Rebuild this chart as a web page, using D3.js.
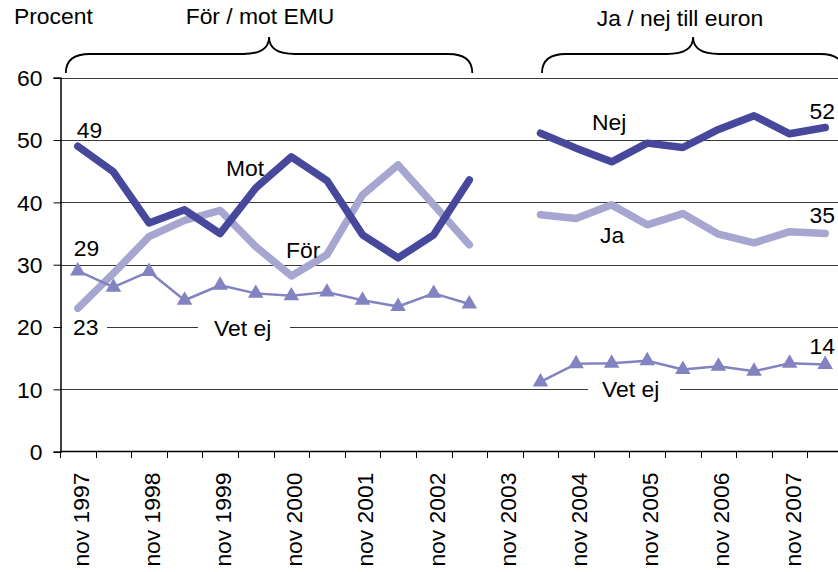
<!DOCTYPE html>
<html>
<head>
<meta charset="utf-8">
<script src="https://cdn.jsdelivr.net/npm/d3@7"></script>
<style>
  html, body { margin: 0; padding: 0; background: #fff; }
  svg { display: block; }
  text { font-family: Arial, "Liberation Sans", sans-serif; font-size: 22px; fill: #000; }
</style>
</head>
<body>
<svg id="chart" width="838" height="572"></svg>
<script>
// Half-yearly survey rounds on the category axis
const periods = ["nov 1997","maj 1998","nov 1998","maj 1999","nov 1999","maj 2000",
  "nov 2000","maj 2001","nov 2001","maj 2002","nov 2002","maj 2003","nov 2003",
  "maj 2004","nov 2004","maj 2005","nov 2005","maj 2006","nov 2006","maj 2007",
  "nov 2007","maj 2008"];
const tickLabels = ["nov 1997","nov 1998","nov 1999","nov 2000","nov 2001","nov 2002",
  "nov 2003","nov 2004","nov 2005","nov 2006","nov 2007"];
const yTicks = [0, 10, 20, 30, 40, 50, 60];

// For / against EMU (nov 1997 – maj 2003)
const emuPeriods = ["nov 1997","maj 1998","nov 1998","maj 1999","nov 1999","maj 2000",
  "nov 2000","maj 2001","nov 2001","maj 2002","nov 2002","maj 2003"];
const mot = [49, 44.9, 36.7, 38.8, 35.0, 42.3, 47.3, 43.5, 34.8, 31.1, 34.8, 43.6];
const forEmu = [23, 28.6, 34.5, 37.1, 38.7, 32.9, 28.2, 31.6, 41.2, 46.0, 39.6, 33.2];
const vetEjEmu = [29, 26.4, 28.9, 24.3, 26.7, 25.4, 25.0, 25.6, 24.3, 23.3, 25.4, 23.7];

// Yes / no to the euro (maj 2004 – maj 2008)
const euroPeriods = ["maj 2004","nov 2004","maj 2005","nov 2005","maj 2006","nov 2006",
  "maj 2007","nov 2007","maj 2008"];
const nej = [51.1, 48.7, 46.5, 49.5, 48.8, 51.7, 53.9, 51.0, 52];
const ja = [38.0, 37.4, 39.6, 36.4, 38.2, 34.9, 33.5, 35.3, 35];
const vetEjEuro = [11.2, 14.1, 14.2, 14.6, 13.2, 13.7, 12.9, 14.2, 14];

const DARK = "#47479c", LIGHT = "#a6a6d0", MID = "#8383c1";
const SX = 1.04; // slight horizontal widening of the lettering
const FONT = "Arial, 'Liberation Sans', sans-serif";

const svg = d3.select("#chart");
const x = d3.scaleBand().domain(periods).range([60, 843]);
const y = d3.scaleLinear().domain([0, 60]).range([451.7, 77.7]);
const cx = p => x(p) + x.bandwidth() / 2;

// Gridlines
svg.append("g").selectAll("line").data(yTicks.filter(v => v > 0)).join("line")
  .attr("x1", 60).attr("x2", 838)
  .attr("y1", d => Math.round(y(d)) + 0.5).attr("y2", d => Math.round(y(d)) + 0.5)
  .attr("stroke", "#3a3a3a").attr("stroke-width", 1);

// Y axis
const yAxis = svg.append("g").attr("transform", "translate(60.5,0)")
  .call(d3.axisLeft(y).tickValues(yTicks).tickSize(7).tickPadding(0));
yAxis.select(".domain").attr("stroke", "#000").attr("stroke-width", 1.5);
yAxis.selectAll(".tick line").attr("stroke", "#000");
yAxis.selectAll(".tick text")
  .attr("x", -18 / SX).attr("dy", "0.36em")
  .attr("transform", `scale(${SX},1)`)
  .style("font-size", "22px").style("font-family", FONT)
  .attr("fill", "#000");

// X axis: labels at November rounds, tick marks at every band boundary
const xAxis = svg.append("g").attr("transform", "translate(0,451.5)")
  .call(d3.axisBottom(x).tickValues(tickLabels).tickSize(0).tickPadding(0));
xAxis.select(".domain").remove();
xAxis.selectAll(".tick text")
  .attr("transform", `translate(3,21) rotate(-90) scale(${SX},1)`)
  .attr("text-anchor", "end").attr("x", 0).attr("y", 0).attr("dy", "0.36em")
  .style("font-size", "22px").style("font-family", FONT)
  .attr("fill", "#000");
const bounds = periods.map(p => x(p)).concat([x.range()[1]]);
svg.append("g").selectAll("line").data(bounds).join("line")
  .attr("x1", d => Math.round(d) + 0.5).attr("x2", d => Math.round(d) + 0.5)
  .attr("y1", 451.5).attr("y2", 458).attr("stroke", "#000");
svg.append("line").attr("x1", 60).attr("x2", 838).attr("y1", 451.5).attr("y2", 451.5)
  .attr("stroke", "#000").attr("stroke-width", 1.5);

// Text helper with optional white knock-out box behind (used on gridlines)
function label(px, py, txt, opts = {}) {
  const g = svg.append("g");
  if (opts.box) {
    g.append("rect").attr("x", opts.box[0]).attr("width", opts.box[1] - opts.box[0])
      .attr("y", py - 17).attr("height", 22).attr("fill", "#fff");
  }
  g.append("text").attr("transform", `translate(${px},${py}) scale(${SX},1)`)
    .attr("text-anchor", opts.anchor || "start").text(txt);
  return g;
}

// Series lines
const line = d3.line().x(d => cx(d.p)).y(d => y(d.v));
const zip = (ps, vs) => ps.map((p, i) => ({ p, v: vs[i] }));

function drawSeries(ps, vs, color, width) {
  svg.append("path").datum(zip(ps, vs)).attr("d", line)
    .attr("fill", "none").attr("stroke", color).attr("stroke-width", width)
    .attr("stroke-linejoin", "round").attr("stroke-linecap", "round");
}
function drawMarkers(ps, vs, color) {
  svg.append("g").selectAll("path").data(zip(ps, vs)).join("path")
    .attr("d", d3.symbol(d3.symbolTriangle, 105))
    .attr("transform", d => `translate(${cx(d.p)},${y(d.v)})`)
    .attr("fill", color);
}

// Labels sitting on gridlines (boxes break the lines)
label(73, 335, "23", { box: [62, 107] });
label(214, 336, "Vet ej", { box: [198, 290] });
label(602, 397, "Vet ej", { box: [588, 680] });

drawSeries(emuPeriods, forEmu, LIGHT, 7.5);
drawSeries(emuPeriods, mot, DARK, 7.5);
drawSeries(emuPeriods, vetEjEmu, MID, 2.5);
drawMarkers(emuPeriods, vetEjEmu, MID);

drawSeries(euroPeriods, ja, LIGHT, 7.5);
drawSeries(euroPeriods, nej, DARK, 7.5);
drawSeries(euroPeriods, vetEjEuro, MID, 2.5);
drawMarkers(euroPeriods, vetEjEuro, MID);

// Series names and end values
label(cx(emuPeriods[0]) - 1, 138, String(mot[0]));
label(cx(emuPeriods[0]) - 4, 256, String(vetEjEmu[0]));
label(226, 176, "Mot");
label(286, 258, "För");
label(592, 130, "Nej");
label(600, 243, "Ja");
label(835, 119, String(nej[nej.length - 1]), { anchor: "end" });
label(835, 223, String(ja[ja.length - 1]), { anchor: "end" });
label(835, 354, String(vetEjEuro[vetEjEuro.length - 1]), { anchor: "end" });

// Titles
label(14, 24, "Procent");
label(260, 24, "För / mot EMU", { anchor: "middle" });
label(680, 26, "Ja / nej till euron", { anchor: "middle" });

// Braces spanning each survey period
function brace(x0, x1, yEnd, yH, yTip) {
  const xm = (x0 + x1) / 2, r = 24, r2 = 26;
  const d = `M${x0},${yEnd} Q${x0},${yH} ${x0 + r},${yH} L${xm - r2},${yH} ` +
    `Q${xm},${yH} ${xm},${yTip} Q${xm},${yH} ${xm + r2},${yH} L${x1 - r},${yH} ` +
    `Q${x1},${yH} ${x1},${yEnd}`;
  svg.append("path").attr("d", d).attr("fill", "none")
    .attr("stroke", "#000").attr("stroke-width", 1.8);
}
brace(cx(emuPeriods[0]) - 12, cx(emuPeriods[emuPeriods.length - 1]) + 3, 73, 54, 37);
brace(cx(euroPeriods[0]) + 1.5, cx(euroPeriods[euroPeriods.length - 1]) + 19, 73, 54, 37);
</script>
</body>
</html>
